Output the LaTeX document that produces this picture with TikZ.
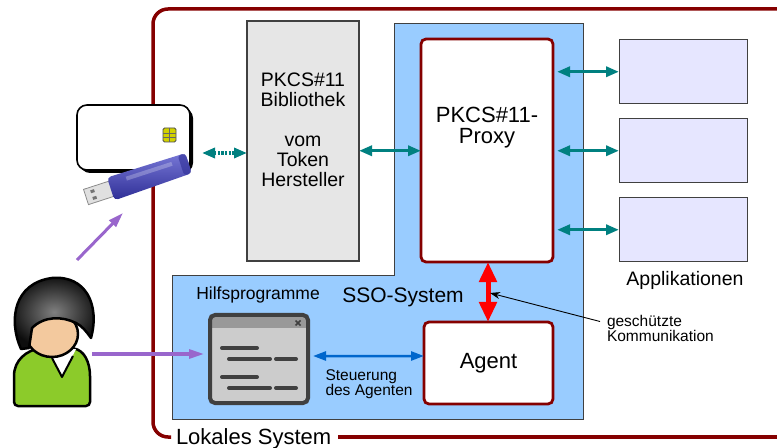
\documentclass[tikz,border=0pt]{standalone}
\usepackage{fontspec}
\setmainfont{Liberation Sans}
\usetikzlibrary{arrows.meta,calc,shadows}

\definecolor{framered}{HTML}{850000}
\definecolor{tealc}{HTML}{008080}
\definecolor{ssoblue}{HTML}{99CCFF}
\definecolor{libgray}{HTML}{E6E6E6}
\definecolor{applav}{HTML}{E6E6FF}
\definecolor{ctrlblue}{HTML}{0066CC}
\definecolor{userpurple}{HTML}{9966CC}
\definecolor{icondark}{HTML}{404040}
\definecolor{iconbody}{HTML}{CCCCCC}
\definecolor{iconbar}{HTML}{999999}
\definecolor{skin}{HTML}{F3C99E}
\definecolor{shirt}{HTML}{8CCB2A}
\definecolor{chipyellow}{HTML}{D2D200}
\definecolor{stickblue}{HTML}{4A4AC8}
\definecolor{stickdark}{HTML}{2E2E96}

\newcommand\fsz[2]{\fontsize{#1bp}{#2bp}\selectfont}

\begin{document}
\begin{tikzpicture}[x=1bp,y=-1bp,
  txt/.style={inner sep=0pt, outer sep=0pt},
  libbox/.style={draw=icondark, line width=1.2bp, fill=libgray, inner sep=0pt, outer sep=0pt, anchor=north west},
  appbox/.style={draw=icondark, line width=1bp, fill=applav, inner sep=0pt, outer sep=0pt, anchor=north west,
                 minimum width=128bp, minimum height=63.5bp},
  corebox/.style={draw=framered, line width=2.8bp, fill=white, rounded corners=5bp, inner sep=0pt, outer sep=0pt, anchor=north west},
  frameline/.style={draw=framered, line width=3.5bp},
  tealarrow/.style={draw=tealc, line width=3.5bp,
                    arrows={Triangle[length=13bp,width=10bp]-Triangle[length=13bp,width=10bp]}},
  tealdots/.style={tealarrow, dash pattern=on 2.2bp off 1.4bp},
  securearrow/.style={draw=red, line width=5bp,
                    arrows={Triangle[length=20bp,width=17bp]-Triangle[length=20bp,width=17bp]}},
  ctrlarrow/.style={draw=ctrlblue, line width=2.5bp,
                    arrows={Triangle[length=13bp,width=9bp]-Triangle[length=13bp,width=9bp]}},
  userarrow/.style={draw=userpurple, line width=3bp, arrows={-Triangle[length=15bp,width=9bp]}},
  notearrow/.style={draw=black, line width=0.9bp, arrows={-Stealth[length=10bp,width=7bp]}},
  iconline/.style={draw=icondark, line width=4bp, line cap=round},
  outline/.style={draw=black, line width=2.5bp, line join=round}
]
\useasboundingbox (0,0) rectangle (777,448);

% ---------- local system frame ----------
\node[txt, anchor=base west, font=\fsz{22}{22}] (lokal) at (176,444.5) {Lokales System};
\draw[frameline, rounded corners=15bp] ($(lokal.base west)+(-5,-7.5)$) -- (153,437) -- (153,9) -- (777,9);
\draw[frameline] ($(lokal.base east)+(7,-7.5)$) -- (777,437);

% ---------- SSO system region ----------
\draw[draw=icondark, line width=1bp, fill=ssoblue]
  (394,24) -- (583,24) -- (583,419) -- (172,419) -- (172,276) -- (394,276) -- cycle;
\node[txt, font=\fsz{21}{21}] (ssolabel) at (403,297) {SSO-System};

% ---------- token library ----------
\node[libbox, minimum width=112bp, minimum height=240bp] (lib) at (247,21) {};
\node[txt, align=center, font=\fsz{19.5}{20}] (libtext) at (303,130)
  {PKCS\#11\\Bibliothek\\[20bp]vom\\Token\\Hersteller};

% ---------- proxy and agent ----------
\node[corebox, minimum width=132bp, minimum height=223bp] (proxy) at (421,39) {};
\node[txt, align=center, font=\fsz{22}{21.5}] (proxytext) at (487,127.5) {PKCS\#11-\\Proxy};
\node[corebox, minimum width=129bp, minimum height=82bp, font=\fsz{22}{22}] (agent) at (424,322) {};
\node[txt, font=\fsz{22}{22}] (agenttext) at (agent.center) {Agent};

\draw[securearrow] (proxy.south -| 488,0) -- (agent.north -| 488,0);

\coordinate (notetip) at (490,293);
\node[txt, anchor=west, align=left, font=\fsz{15.5}{15}] (note) at (607,328.5) {geschützte\\Kommunikation};
\draw[notearrow] ($(note.west)+(-7,-7)$) -- (notetip);

% ---------- applications ----------
\node[appbox] (app1) at (619,40) {};
\node[appbox] (app2) at (619,119) {};
\node[appbox] (app3) at (619,198) {};
\node[txt, font=\fsz{19.5}{19.5}] (apptext) at (685,280) {Applikationen};

\draw[tealarrow, shorten <=4bp] (app1.west -| proxy.east) -- (app1.west);
\draw[tealarrow, shorten <=4bp] (app2.west -| proxy.east) -- (app2.west);
\draw[tealarrow, shorten <=4bp] (app3.west -| proxy.east) -- (app3.west);
\draw[tealarrow] (app2.west -| lib.east) -- (app2.west -| proxy.west);

% ---------- helper programs (window icon) ----------
\node[txt, font=\fsz{17.5}{17.5}] (hilfs) at (258,295) {Hilfsprogramme};
\node[fill=iconbody, rounded corners=5bp, inner sep=0pt, outer sep=0pt, anchor=north west,
      minimum width=98bp, minimum height=88bp] (win) at (210,315) {};
\fill[iconbar] (210,315) rectangle (308,328);
\draw[draw=icondark, line width=4bp, rounded corners=5bp] (win.north west) rectangle (win.south east);
\draw[icondark, line width=1.6bp] (295.5,320.5) -- (300.5,325.5) (300.5,320.5) -- (295.5,325.5);
\draw[iconline] (222,348) -- (257,348);
\draw[iconline] (229,359) -- (270,359) (276,359) -- (296,359);
\draw[iconline] (222,377) -- (257,377);
\draw[iconline] (229,388) -- (270,388) (276,388) -- (296,388);

\draw[ctrlarrow, shorten <=3bp] ($(win.east)+(2,-3)$) -- ($(agent.west)+(0,-7)$);
\node[txt, anchor=west, align=left, font=\fsz{15.5}{15}] (ctrltext) at (325.5,384) {Steuerung\\des Agenten};

% ---------- smart card ----------
\node[draw=black, line width=1.6bp, fill=white, rounded corners=10bp, inner sep=0pt, outer sep=0pt,
      anchor=north west, minimum width=113bp, minimum height=65bp,
      drop shadow={shadow xshift=3bp, shadow yshift=-3bp, fill=black, opacity=1}] (card) at (77,105) {};
\filldraw[fill=chipyellow, draw=black!70, line width=0.8bp, rounded corners=1.5bp] (163,128) rectangle (176,142);
\draw[black!60, line width=0.6bp] (163,133) -- (176,133) (163,137.5) -- (176,137.5) (169.5,128) -- (169.5,142);

% ---------- USB token ----------
\begin{scope}[shift={(86,197)}, rotate=18]
  \filldraw[fill=black!12, draw=black!45, line width=0.8bp] (0,-8) rectangle (30,8);
  \fill[black!55] (6,-5) rectangle (10,-2) (6,2) rectangle (10,5);
  \shade[top color=stickblue!75!white, bottom color=stickdark, rounded corners=4bp]
    (26,-12) -- (108,-11) -- (108,10) -- (26,12) -- cycle;
  \fill[white, opacity=0.25] (44,-7) rectangle (92,-3);
  \fill[stickdark, opacity=0.6, rounded corners=3bp] (100,-11) rectangle (108,10);
\end{scope}

% ---------- token connection ----------
\coordinate (tokenport) at (202,153);
\draw[tealdots] (tokenport) -- (tokenport -| lib.west);

% ---------- user ----------
\draw[outline, fill=shirt, rounded corners=4bp]
  (14,406) -- (14,380) .. controls (14,360) and (27,350) .. (44,348) -- (70,348)
  .. controls (84,350) and (90,362) .. (90,380) -- (90,406) -- cycle;
\fill[white] (48,351) -- (62,377) -- (76,349) -- cycle;
\draw[black, line width=2bp, line join=round] (52,358) -- (62,377) -- (73,356);
\draw[outline, fill=skin] (52,334) ellipse [x radius=26bp, y radius=23bp];
\shade[outline, inner color=black!50, outer color=black!95]
  (21,349) .. controls (8,320) and (14,283) .. (52,278)
  .. controls (86,275) and (100,305) .. (91,338)
  .. controls (86,331) and (82,326) .. (76,323)
  .. controls (62,316) and (44,316) .. (32,328)
  -- (29,348) -- cycle;

\coordinate (userside) at (92,354);
\coordinate (userreach) at (77,260);
\coordinate (tokenspot) at (123,213);
\draw[userarrow, shorten >=6bp] (userside) -- (userside -| win.west);
\draw[userarrow] (userreach) -- (tokenspot);

\end{tikzpicture}
\end{document}
